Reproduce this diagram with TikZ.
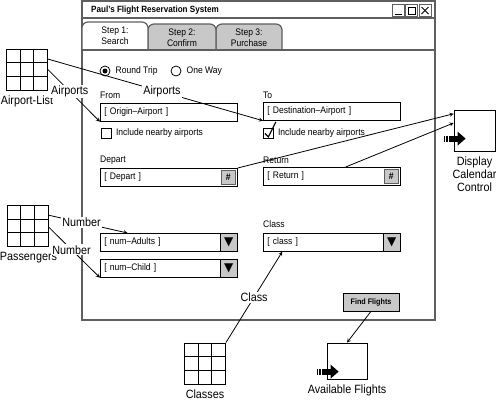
\documentclass[tikz,border=0pt]{standalone}
\usepackage{fontspec}
\setmainfont{Liberation Sans}[FakeStretch=0.9]
\newfontfamily\symfont{DejaVu Sans}
\usepackage{xcolor}
\usepackage{tikz}
\usetikzlibrary{arrows, positioning, calc}
\definecolor{frame}{RGB}{95, 95, 95}
\definecolor{btngray}{RGB}{200, 200, 200}
\newcommand{\uifont}{\fontsize{9.5}{11}\selectfont}
\newcommand{\lblfont}{\fontsize{12}{13}\selectfont}
\tikzstyle{arrow} = [->, >=stealth, black, line width=0.8pt]
\tikzstyle{field} = [rectangle, draw=black, line width=0.7pt, fill=white, minimum height=18pt, text width=129pt, inner sep=4pt, align=left, font=\uifont, anchor=north west]
\tikzstyle{uilabel} = [inner sep=0pt, font=\uifont]
\tikzstyle{caption} = [inner sep=0pt, font=\lblfont, align=center]
\tikzstyle{connlabel} = [fill=white, inner sep=1pt, font=\lblfont]
\tikzstyle{radio} = [circle, draw=black, line width=0.8pt, minimum size=10pt, inner sep=0pt]
\tikzstyle{checkbox} = [rectangle, draw=black, line width=0.8pt, minimum size=10pt, inner sep=0pt, anchor=north west]
\tikzstyle{calbtn} = [rectangle, draw=frame, line width=0.8pt, fill=btngray, minimum size=14pt, inner sep=0pt, font=\uifont\bfseries]
\tikzstyle{dropbtn} = [rectangle, draw=black, line width=0.7pt, fill=btngray, minimum width=17pt, minimum height=18pt, inner sep=0pt, font=\symfont\fontsize{12}{12}\selectfont]
\tikzstyle{winbtn} = [rectangle, draw=frame, line width=1pt, minimum size=12pt, inner sep=0pt]
\tikzstyle{tabshape} = [draw=frame, line width=1.2pt, rounded corners=6pt]
\tikzstyle{target} = [rectangle, draw=black, line width=0.8pt, fill=white, minimum width=40pt, minimum height=36pt]
\tikzstyle{datagrid} = [rectangle, draw=black, line width=0.8pt, minimum width=41pt, minimum height=41pt, inner sep=0pt,
  path picture={
    \foreach \f in {0.333,0.667} {
      \draw[line width=0.8pt] ($(path picture bounding box.north west)!\f!(path picture bounding box.north east)$) -- ($(path picture bounding box.south west)!\f!(path picture bounding box.south east)$);
      \draw[line width=0.8pt] ($(path picture bounding box.north west)!\f!(path picture bounding box.south west)$) -- ($(path picture bounding box.north east)!\f!(path picture bounding box.south east)$);
    }}]
\tikzset{bigarrow/.pic={
  \fill (-10,-3) rectangle (-8.5,3);
  \fill (-7.5,-3) rectangle (-6,3);
  \fill (-5,-3) rectangle (5,3);
  \fill (4,-7) -- (12,0) -- (4,7) -- cycle;
}}

\begin{document}
\begin{tikzpicture}[x=1pt, y=-1pt]
    \useasboundingbox (0,0) rectangle (496,400);

    % window frame and title bar
    \draw[frame, line width=1.8pt] (82,1) rectangle (435,320);
    \draw[frame, line width=1.5pt] (82,18) -- (435,18);
    \node[anchor=west, inner sep=0pt, font=\bfseries\fontsize{9}{10}\selectfont] (title) at (91,10) {Paul's Flight Reservation System};
    \node[winbtn] (minbtn) at (398,10.5) {};
    \node[winbtn] (maxbtn) at (411.5,10.5) {};
    \node[winbtn] (closebtn) at (425,10.5) {};
    \draw[line width=1pt] ($(minbtn.south west)+(3,-3)$) -- ($(minbtn.south east)+(-3,-3)$);
    \draw[line width=0.9pt] ($(maxbtn.north west)+(3,3)$) rectangle ($(maxbtn.south east)+(-3,-3)$);
    \draw[line width=0.9pt] ($(closebtn.north west)+(3,3)$) -- ($(closebtn.south east)+(-3,-3)$);
    \draw[line width=0.9pt] ($(closebtn.north east)+(-3,3)$) -- ($(closebtn.south west)+(3,-3)$);

    % tabs
    \draw[tabshape, fill=btngray] (216,50) -- (216,24) -- (282,24) -- (282,50);
    \draw[tabshape, fill=btngray] (148,50) -- (148,24) -- (216,24) -- (216,50);
    \draw[tabshape, fill=white] (82,50) -- (82,22) -- (148,22) -- (148,50);
    \draw[frame, line width=1.8pt] (82,50) -- (435,50);
    \node[uilabel, align=center] (tab1) at (115,36) {Step 1:\\Search};
    \node[uilabel, align=center] (tab2) at (182,38) {Step 2:\\Confirm};
    \node[uilabel, align=center] (tab3) at (249,38) {Step 3:\\Purchase};

    % trip type
    \node[radio] (roundtrip) at (105,71) {};
    \fill (roundtrip.center) circle (2.5);
    \node[uilabel, right=5pt of roundtrip] (rtlabel) {Round Trip};
    \node[radio] (oneway) at (176,71) {};
    \node[uilabel, right=5pt of oneway] (owlabel) {One Way};

    % airports
    \node[uilabel, anchor=base west] (fromlbl) at (100,98) {From};
    \node[field] (origin) at (100,103) {[ Origin--Airport ]};
    \node[checkbox] (nearfrom) at (101,128) {};
    \node[uilabel, right=4pt of nearfrom] (nearfromlbl) {Include nearby airports};
    \node[uilabel, anchor=base west] (tolbl) at (263,98) {To};
    \node[field] (dest) at (263,102) {[ Destination--Airport ]};
    \node[checkbox] (neardest) at (263,128) {};
    \node[uilabel, right=4pt of neardest] (neardestlbl) {Include nearby airports};
    \draw[line width=1.2pt] ($(neardest.west)+(2,0)$) -- ($(neardest.south)+(0,-2)$) -- ($(neardest.north east)+(2,-6)$);

    % dates
    \node[uilabel, anchor=base west] (departlbl) at (100,162) {Depart};
    \node[field] (depart) at (100,168) {[ Depart ]};
    \node[calbtn, left=2pt of depart.east] (departcal) {\#};
    \node[uilabel, anchor=base west] (returnlbl) at (263,163) {Return};
    \node[field] (retfield) at (263,167) {[ Return ]};
    \node[calbtn, left=2pt of retfield.east] (returncal) {\#};

    % passengers and class
    \node[field] (adults) at (100,233) {[ num--Adults ]};
    \node[dropbtn, left=0pt of adults.east] (adultsdrop) {▼};
    \node[field] (child) at (100,259) {[ num--Child ]};
    \node[dropbtn, left=0pt of child.east] (childdrop) {▼};
    \node[uilabel, anchor=base west] (classlbl) at (263,227) {Class};
    \node[field] (class) at (263,233) {[ class ]};
    \node[dropbtn, left=0pt of class.east] (classdrop) {▼};
    \node[rectangle, draw=black, line width=0.7pt, fill=btngray, minimum width=56pt, minimum height=18pt, inner sep=0pt, font=\bfseries\fontsize{8}{9}\selectfont] (find) at (371,302) {Find Flights};

    % data sources and targets
    \node[datagrid] (airlist) at (27,69.5) {};
    \node[caption, below=5pt of airlist] (airlistlbl) {Airport-List};
    \node[datagrid] (passengers) at (27.5,226) {};
    \node[caption, below=5pt of passengers, xshift=1pt] (passlbl) {Passengers};
    \node[datagrid] (classes) at (205,363.5) {};
    \node[caption, below=5pt of classes] (classeslbl) {Classes};
    \node[target, minimum width=41pt, minimum height=41pt] (calendar) at (474.5,130.5) {};
    \pic at ($(calendar.north west)+(0,29)$) {bigarrow};
    \node[caption, below=5pt of calendar] (calendarlbl) {Display\\Calendar\\Control};
    \node[target] (avail) at (347,361) {};
    \pic at ($(avail.north west)+(0,29)$) {bigarrow};
    \node[caption, below=5pt of avail] (availlbl) {Available Flights};

    % connectors
    \draw[arrow] ($(airlist.north east)!0.25!(airlist.south east)$) -- node[connlabel, pos=0.53] (airportslbl1) {Airports} (dest.south west);
    \draw[arrow] (airlist.east) -- node[connlabel, pos=0.42] (airportslbl2) {Airports} (origin.south west);
    \draw[arrow] (depart.north east) -- ($(calendar.north west)!0.1!(calendar.south west)$);
    \draw[arrow] ($(retfield.north west)!0.6!(retfield.north east)$) -- ($(calendar.north west)!0.32!(calendar.south west)$);
    \draw[arrow] ($(passengers.north east)!0.24!(passengers.south east)$) -- node[connlabel, pos=0.42] (numberlbl1) {Number} ($(adults.north west)!0.2!(adults.north east)$);
    \draw[arrow] ($(passengers.north east)!0.52!(passengers.south east)$) -- node[connlabel, pos=0.45] (numberlbl2) {Number} (child.south west);
    \draw[arrow] (classes.north east) -- node[connlabel, pos=0.5] (classconnlbl) {Class} ($(class.south west)!0.14!(class.south east)$);
    \draw[arrow] (find.south) -- (avail.north);
\end{tikzpicture}
\end{document}
